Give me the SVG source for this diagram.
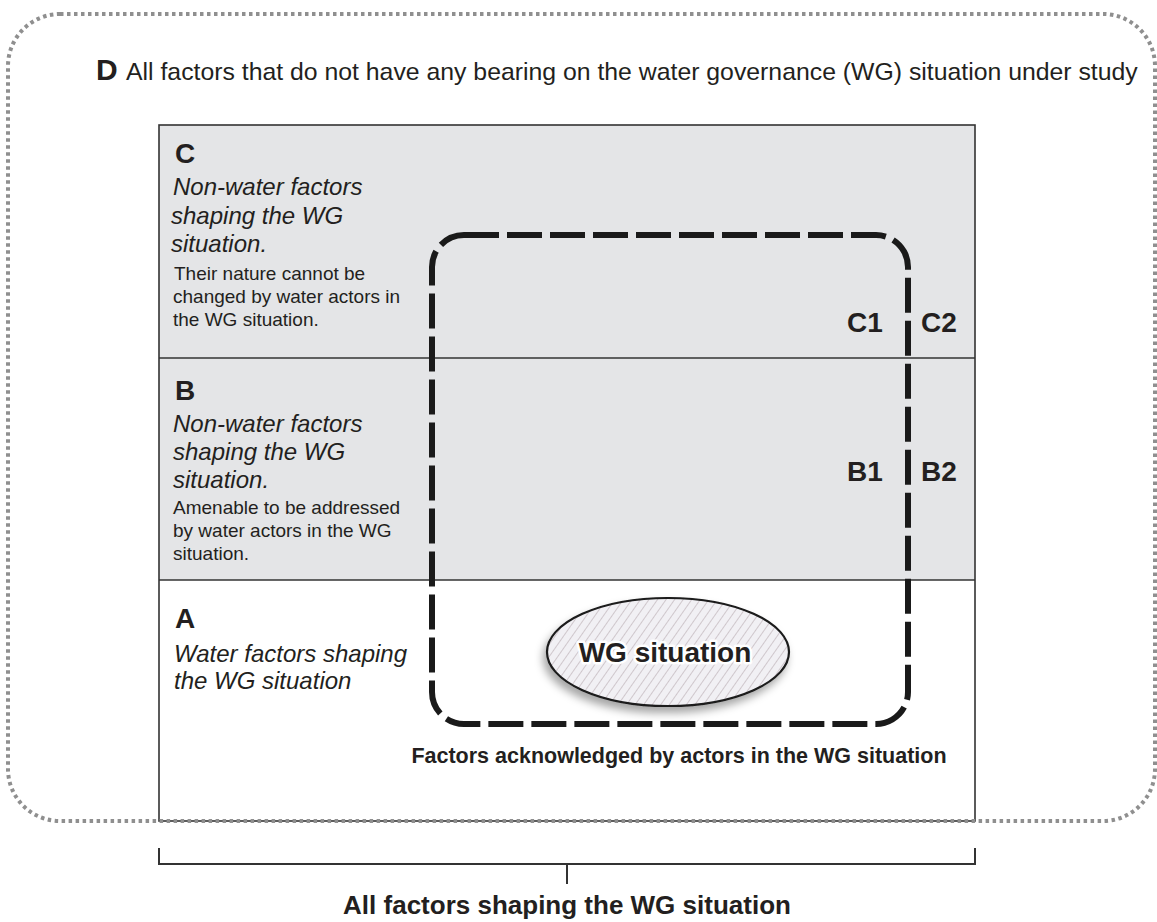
<svg xmlns="http://www.w3.org/2000/svg" width="1157" height="922" viewBox="0 0 1157 922">
  <defs>
    <style>
      .sans { font-family: "Liberation Sans", Arial, sans-serif; fill: #231f20; }
      .letter { font-size: 28px; font-weight: bold; }
      .ital { font-size: 24px; font-style: italic; }
      .small { font-size: 19px; }
      .sub { font-size: 28px; font-weight: bold; }
      .frame { fill: none; stroke: #333; stroke-width: 1.6; }
      .band { fill: #e4e5e7; }
      .rule { stroke: #333; stroke-width: 1.6; }
    </style>
    <pattern id="hatch" width="7" height="7" patternUnits="userSpaceOnUse" patternTransform="rotate(35)">
      <rect width="7" height="7" fill="#f1f0f4"/>
      <line x1="0" y1="0" x2="0" y2="7" stroke="#9a8a92" stroke-width="0.8"/>
    </pattern>
    <filter id="shadow" x="-20%" y="-30%" width="140%" height="170%">
      <feDropShadow dx="-3" dy="6" stdDeviation="4" flood-color="#000" flood-opacity="0.35"/>
    </filter>
  </defs>

  <rect width="1157" height="922" fill="#fff"/>

  <!-- main box: bands C, B, A -->
  <g id="zone-C">
    <rect class="band" x="159" y="125" width="816" height="233"/>
    <text class="sans letter" x="175" y="163">C</text>
    <text class="sans ital" x="173" y="195">Non-water factors</text>
    <text class="sans ital" x="171" y="224">shaping the WG</text>
    <text class="sans ital" x="171" y="252">situation.</text>
    <text class="sans small" x="174" y="280">Their nature cannot be</text>
    <text class="sans small" x="173" y="303">changed by water actors in</text>
    <text class="sans small" x="173" y="326">the WG situation.</text>
  </g>

  <g id="zone-B">
    <rect class="band" x="159" y="358" width="816" height="222"/>
    <text class="sans letter" x="175" y="400">B</text>
    <text class="sans ital" x="173" y="432">Non-water factors</text>
    <text class="sans ital" x="173" y="460">shaping the WG</text>
    <text class="sans ital" x="173" y="488">situation.</text>
    <text class="sans small" x="173" y="514">Amenable to be addressed</text>
    <text class="sans small" x="173" y="537">by water actors in the WG</text>
    <text class="sans small" x="173" y="560">situation.</text>
  </g>

  <g id="zone-A">
    <text class="sans letter" x="175" y="628">A</text>
    <text class="sans ital" x="174" y="662">Water factors shaping</text>
    <text class="sans ital" x="174" y="689">the WG situation</text>
  </g>

  <g id="frame">
    <rect class="frame" x="159" y="125" width="816" height="696"/>
    <line class="rule" x1="159" y1="358" x2="975" y2="358"/>
    <line class="rule" x1="159" y1="580" x2="975" y2="580"/>
  </g>

  <!-- factors acknowledged by actors -->
  <g id="acknowledged">
    <rect x="432" y="235" width="476" height="489" rx="32" ry="32" fill="none" stroke="#1a1a1a" stroke-width="6" stroke-dasharray="35 8"/>
    <text class="sans sub" x="847" y="332">C1</text>
    <text class="sans sub" x="921" y="332">C2</text>
    <text class="sans sub" x="847" y="481">B1</text>
    <text class="sans sub" x="921" y="481">B2</text>
    <text class="sans" x="679" y="763" text-anchor="middle" font-size="21.5" font-weight="bold">Factors acknowledged by actors in the WG situation</text>
  </g>

  <g id="wg-situation">
    <ellipse cx="668" cy="652" rx="121" ry="54" fill="url(#hatch)" stroke="#1a1a1a" stroke-width="2.2" filter="url(#shadow)"/>
    <text class="sans" x="665" y="662" text-anchor="middle" font-size="28" font-weight="bold" stroke="#fff" stroke-width="5" stroke-linejoin="round" paint-order="stroke">WG situation</text>
  </g>

  <!-- outer zone D -->
  <g id="zone-D">
    <rect x="8" y="14" width="1147" height="807" rx="52" ry="52" fill="none" stroke="#8f8f8f" stroke-width="4" stroke-dasharray="3.5 3.5"/>
    <text class="sans" x="96" y="80" font-size="30" font-weight="bold">D</text>
    <text class="sans" x="126" y="80" font-size="24.8">All factors that do not have any bearing on the water governance (WG) situation under study</text>
  </g>

  <!-- bracket spanning all shaping factors -->
  <g id="connectors" fill="none" stroke="#333" stroke-width="2">
    <polyline points="159,848 159,864 975,864 975,848"/>
    <line x1="567" y1="864" x2="567" y2="884"/>
  </g>
  <g id="bracket-label">
    <text class="sans" x="567" y="914" text-anchor="middle" font-size="26" font-weight="bold">All factors shaping the WG situation</text>
  </g>
</svg>
